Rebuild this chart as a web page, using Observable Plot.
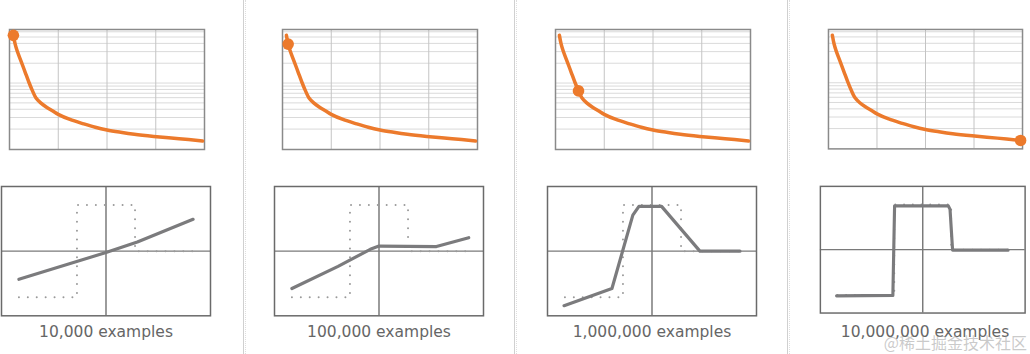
<!DOCTYPE html>
<html>
<head>
<meta charset="utf-8">
<script src="https://cdn.jsdelivr.net/npm/d3@7"></script>
<script src="https://cdn.jsdelivr.net/npm/@observablehq/plot@0.6"></script>
<style>
  html, body { margin: 0; padding: 0; background: #fff; }
  #root { position: relative; width: 1030px; height: 354px; overflow: hidden; background: #fff; font-family: "DejaVu Sans", Verdana, sans-serif; }
  .sep { position: absolute; top: 0; height: 354px; width: 1px; border-left: 1px solid #d0d0d0; border-right: 1px dotted #dedede; }
  .plot { position: absolute; }
  .plot svg { overflow: visible; display: block; }
  .label { position: absolute; width: 220px; text-align: center; font-size: 15.5px; line-height: 18px; color: #666; }
  .wm { position: absolute; right: 3px; top: 332px; font-family: "Noto Sans CJK SC", sans-serif; font-size: 16px; line-height: 20px; color: rgba(150,150,150,0.5); }
</style>
</head>
<body>
<div id="root"></div>
<script>
// ---- data ----
const panelLabels = ["10,000 examples", "100,000 examples", "1,000,000 examples", "10,000,000 examples"];

// training loss curve (same curve in every panel, log scale)
const lossX = [2, 2.9, 4, 6, 8, 10, 11.8, 13.5, 16, 19, 22, 25, 31, 38, 44, 50, 57, 64, 74, 87, 99];
const lossY = [5.3, 3.9, 3.04, 2.12, 1.47, 1.02, 0.76, 0.6, 0.5, 0.43, 0.38, 0.335, 0.28, 0.24, 0.213, 0.194, 0.179, 0.167, 0.155, 0.143, 0.132];
// index of the highlighted point on the loss curve for each panel
const lossDotIndex = [0, 1, 6, 20];
const lossGridY = [0.2, 0.3, 0.4, 0.5, 0.6, 0.7, 0.8, 0.9, 1, 2, 3, 4, 5, 6];
const lossGridX = [25, 50, 75];

// target function (dotted step)
const targetX = [-1, -1/3, -1/3, 1/3, 1/3, 1];
const targetY = [-1, -1, 1, 1, 0, 0];

// model predictions per panel
const pred1X = [-1, 0, 0.36, 1];
const pred1Y = [-0.61, -0.03, 0.2, 0.69];
const pred2X = [-1, -0.47, -0.1, 0, 0.66, 1.03];
const pred2Y = [-0.81, -0.33, 0.04, 0.11, 0.1, 0.29];
const pred3X = [-1.01, -0.46, -0.22, -0.15, 0.11, 0.55, 1.01];
const pred3Y = [-1.18, -0.81, 0.78, 0.97, 0.97, 0, 0];
const pred4X = [-1.01, -0.35, -0.33, 0.3, 0.32, 0.35, 1.0];
const pred4Y = [-1.02, -1.01, 0.97, 0.97, 0.89, -0.01, -0.01];

// ---- build ----
const predX = [pred1X, pred2X, pred3X, pred4X];
const predY = [pred1Y, pred2Y, pred3Y, pred4Y];
const zip = (xs, ys) => xs.map((x, i) => ({x, y: ys[i]}));
const loss = zip(lossX, lossY);
const target = zip(targetX, targetY);

const root = document.getElementById("root");
const ORANGE = "#ec7a2c";

[243, 514, 787].forEach(x => {
  const d = document.createElement("div");
  d.className = "sep";
  d.style.left = x + "px";
  root.appendChild(d);
});

for (let i = 0; i < 4; i++) {
  const step = 273;
  // top: loss plot
  const m = 8;
  const top = Plot.plot({
    width: 195 + 2 * m, height: 120 + 2 * m,
    marginTop: m, marginBottom: m, marginLeft: m, marginRight: m,
    x: {domain: [0, 100], axis: null},
    y: {type: "log", domain: [0.098, 6.5], axis: null},
    marks: [
      Plot.ruleY(lossGridY, {stroke: "#dadada", strokeWidth: 1}),
      Plot.ruleX(lossGridX, {stroke: "#c4c4c4", strokeWidth: 1}),
      Plot.frame({stroke: "#8a8a8a", strokeWidth: 1.5}),
      Plot.line(loss, {x: "x", y: "y", stroke: ORANGE, strokeWidth: 3.5, curve: "catmull-rom"}),
      Plot.dot([loss[lossDotIndex[i]]], {x: "x", y: "y", r: 5.8, fill: ORANGE, stroke: "none"})
    ]
  });
  const tdiv = document.createElement("div");
  tdiv.className = "plot";
  tdiv.style.left = (106.5 + step * i - 97.5 - m) + "px";
  tdiv.style.top = (29 - m) + "px";
  tdiv.appendChild(top);
  root.appendChild(tdiv);

  // bottom: function plot
  const mb = 6;
  const bot = Plot.plot({
    width: 209 + 2 * mb, height: 129.3 + 2 * mb,
    marginTop: mb, marginBottom: mb, marginLeft: mb, marginRight: mb,
    x: {domain: [-1.2, 1.2], axis: null},
    y: {domain: [-1.4, 1.4], axis: null},
    marks: [
      Plot.ruleX([0], {stroke: "#7a7a7a", strokeWidth: 1.5}),
      Plot.ruleY([0], {stroke: "#7a7a7a", strokeWidth: 1.2}),
      Plot.line(target, {x: "x", y: "y", stroke: "#9a9a9a", strokeWidth: 2, strokeDasharray: "0.01,8.9", strokeLinecap: "round"}),
      Plot.line(zip(predX[i], predY[i]), {x: "x", y: "y", stroke: "#7b7b7d", strokeWidth: 3.2, strokeLinejoin: "round"}),
      Plot.frame({stroke: "#6a6a6a", strokeWidth: 1.5})
    ]
  });
  const bdiv = document.createElement("div");
  bdiv.className = "plot";
  bdiv.style.left = (105 + step * i - 104.5 - mb) + "px";
  bdiv.style.top = (185.7 - mb) + "px";
  bdiv.appendChild(bot);
  root.appendChild(bdiv);

  const lab = document.createElement("div");
  lab.className = "label";
  lab.textContent = panelLabels[i];
  lab.style.left = (106 + step * i - 110) + "px";
  lab.style.top = "323px";
  root.appendChild(lab);
}

const wm = document.createElement("div");
wm.className = "wm";
wm.textContent = "@稀土掘金技术社区";
root.appendChild(wm);
</script>
</body>
</html>
